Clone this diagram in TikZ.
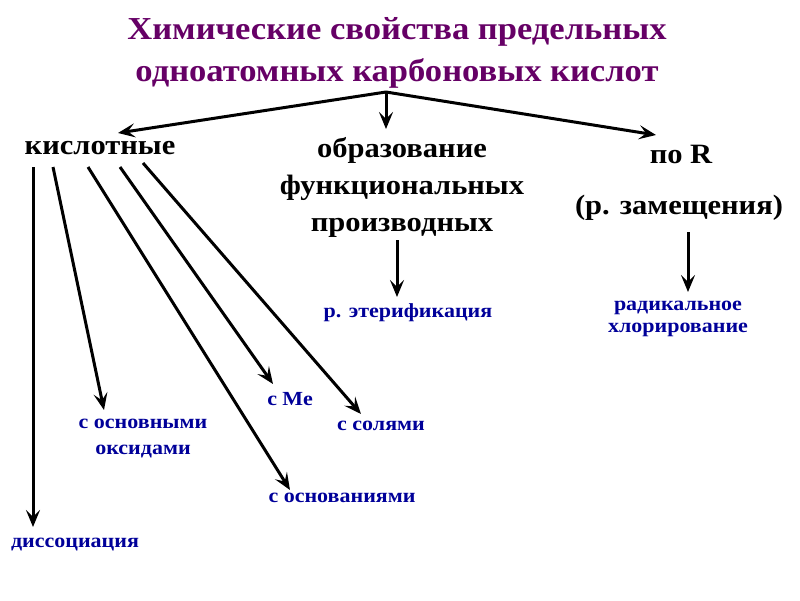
\documentclass[tikz,border=0pt]{standalone}
\usepackage{fontspec}
\setmainfont{Liberation Serif}
\newfontfamily\ttlfont[FakeStretch=1.08]{Liberation Serif}
\newfontfamily\blkfont[FakeStretch=1.09]{Liberation Serif}
\newfontfamily\lblfont[FakeStretch=1.1]{Liberation Serif}
\usetikzlibrary{arrows.meta}
\definecolor{titlec}{HTML}{660066}
\definecolor{bluec}{HTML}{000099}
\begin{document}
\begin{tikzpicture}[x=1pt,y=-1pt,
  ttl/.style={font=\ttlfont\bfseries\fontsize{32}{42}\selectfont, text=titlec, align=center, inner sep=0},
  blk/.style={font=\blkfont\bfseries\fontsize{28}{37}\selectfont, align=center, inner sep=0},
  lbl/.style={font=\lblfont\bfseries\fontsize{20}{26}\selectfont, text=bluec, align=center, inner sep=0},
  arr/.style={line width=3pt, -{Stealth[length=17pt,width=14pt,inset=7pt]}}]
\useasboundingbox (0,0) rectangle (800,600);
\node[ttl] (title) at (397,53) {Химические свойства предельных\\одноатомных карбоновых кислот};
\coordinate (br) at (386,92);
\node[blk] (acid) at (100,148) {кислотные};
\node[blk] (func) at (402,187) {образование\\функциональных\\производных};
\node[blk] (poR) at (681,154) {по R};
\node[blk] (zam) at (679,208) {(р. замещения)};
\coordinate (tAcid) at (118,133);
\coordinate (tFunc) at (386,129);
\coordinate (tR) at (656,135);
\draw[arr] (br) -- (tAcid);
\draw[arr] (br) -- (tFunc);
\draw[arr] (br) -- (tR);
\node[lbl] (eter) at (408,313) {р. этерификация};
\node[lbl] (rad) at (678,319) {радикальное\\[-4pt]хлорирование};
\coordinate (f1) at (397,240);
\coordinate (f2) at (397,297);
\draw[arr] (f1) -- (f2);
\coordinate (z1) at (688,232);
\coordinate (z2) at (688,292);
\draw[arr] (z1) -- (z2);
\node[lbl] (dis) at (75,545) {диссоциация};
\node[lbl] (oks) at (143,439) {с основными\\оксидами};
\node[lbl] (osn) at (342,498) {с основаниями};
\node[lbl] (me) at (290,399) {с Ме};
\node[lbl] (sol) at (381,426) {с солями};
\coordinate (a1) at (33,167);
\coordinate (a2) at (53,167);
\coordinate (a3) at (88,167);
\coordinate (a4) at (120,167);
\coordinate (a5) at (143,163);
\draw[arr] (a1) -- (33,527);
\draw[arr] (a2) -- (104,410);
\draw[arr] (a3) -- (290,490);
\draw[arr] (a4) -- (273,384);
\draw[arr] (a5) -- (361,414);
\end{tikzpicture}
\end{document}
